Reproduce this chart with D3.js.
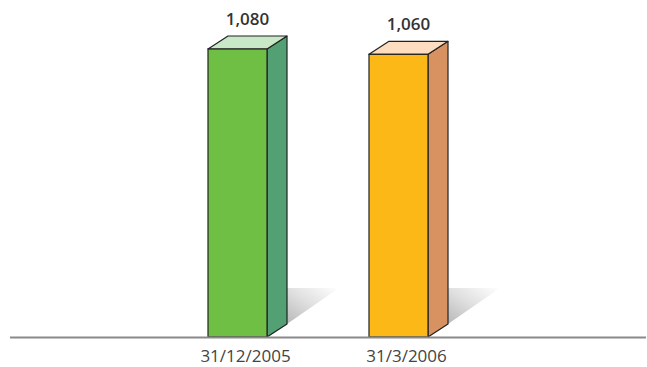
<!DOCTYPE html>
<html><head><meta charset="utf-8">
<script src="https://cdn.jsdelivr.net/npm/d3@7"></script>
<style>body{margin:0;background:#fff}svg{display:block}</style>
</head><body>
<script>
const categories = ["31/12/2005", "31/3/2006"];
const values = [1080, 1060];
const valueLabels = ["1,080", "1,060"];
const frontColors = ["#70bf45", "#fbb817"];
const sideColors = ["#52a073", "#d89261"];
const topColors = ["#c8e8c8", "#fddcbf"];

const W = 647, H = 367;
const baseY = 337;
const dx = 20, dy = 13;

const svg = d3.select("body").append("svg").attr("width", W).attr("height", H);

const x = d3.scaleBand().domain(categories).range([208, 428]).paddingInner(0.6335).paddingOuter(0);
const y = d3.scaleLinear().domain([0, 1080]).range([baseY, 49]);

const defs = svg.append("defs");
const grad = defs.append("linearGradient").attr("id", "sh").attr("x1", "0").attr("y1", "1").attr("x2", "1").attr("y2", "0");
grad.append("stop").attr("offset", "0").attr("stop-color", "#b8b8b8");
grad.append("stop").attr("offset", "0.5").attr("stop-color", "#e0e0e0");
grad.append("stop").attr("offset", "1").attr("stop-color", "#ffffff");

const g = svg.append("g");
categories.forEach((c, i) => {
  const x0 = x(c), x1 = x0 + x.bandwidth();
  const yt = y(values[i]);
  g.append("path")
    .attr("d", `M${x1 + dx},${baseY - dy} L${x1 + dx},${baseY - 49} L${x1 + dx + 52},${baseY - 49} Z`)
    .attr("fill", "url(#sh)");
  g.append("path")
    .attr("d", `M${x1},${baseY} L${x1 + dx},${baseY - dy} L${x1 + dx},${yt - dy} L${x1},${yt} Z`)
    .attr("fill", sideColors[i]).attr("stroke", "#222").attr("stroke-width", 1.2).attr("stroke-linejoin", "round");
  g.append("path")
    .attr("d", `M${x0},${yt} L${x0 + dx},${yt - dy} L${x1 + dx},${yt - dy} L${x1},${yt} Z`)
    .attr("fill", topColors[i]).attr("stroke", "#222").attr("stroke-width", 1.2).attr("stroke-linejoin", "round");
  g.append("rect")
    .attr("x", x0).attr("y", yt).attr("width", x.bandwidth()).attr("height", baseY - yt)
    .attr("fill", frontColors[i]).attr("stroke", "#222").attr("stroke-width", 1.2);
  g.append("text")
    .attr("x", x0 + (x.bandwidth() + dx) / 2).attr("y", yt - dy - 11)
    .attr("text-anchor", "middle")
    .attr("font-family", "Open Sans").attr("font-size", 17).attr("font-weight", 600).attr("fill", "#333")
    .text(valueLabels[i]);
});

const axis = svg.append("g").attr("transform", `translate(0,${baseY})`)
  .call(d3.axisBottom(x).tickSize(0).tickPadding(13).tickFormat(d => d));
axis.select(".domain").remove();
svg.append("line").attr("x1", 10).attr("x2", 646).attr("y1", baseY + 0.5).attr("y2", baseY + 0.5)
  .attr("stroke", "#8a8a8a").attr("stroke-width", 2);
axis.selectAll(".tick").attr("transform", d => `translate(${x(d) + (x.bandwidth() + dx) / 2 - 2},0)`);
axis.selectAll("text").attr("font-family", "Open Sans").attr("font-size", 17).attr("fill", "#444");
</script>
</body></html>
